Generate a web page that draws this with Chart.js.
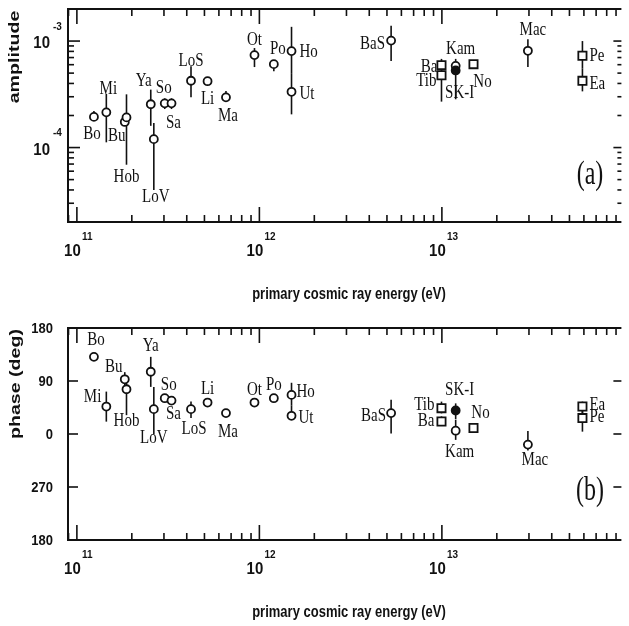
<!DOCTYPE html>
<html>
<head>
<meta charset="utf-8">
<script src="https://cdn.jsdelivr.net/npm/chart.js@4"></script>
<style>
html, body { margin: 0; padding: 0; background: #fff; overflow: hidden; width: 629px; height: 626px; }
canvas { position: absolute; left: 0; }
#ampChart { top: 0; }
#phaseChart { top: 313px; }
</style>
</head>
<body>
<canvas id="ampChart" width="629" height="313"></canvas>
<canvas id="phaseChart" width="629" height="313"></canvas>
<script>
const experiments = ['Bo', 'Mi', 'Bu', 'Hob', 'Ya', 'LoV', 'So', 'Sa', 'LoS', 'Li', 'Ma', 'Ot', 'Po', 'Ho', 'Ut',
    'BaS', 'Ba', 'Tib', 'Kam', 'SK-I', 'No', 'Mac', 'Pe', 'Ea'];
// o = open circle, s = open square, f = filled circle
const markers = ['o', 'o', 'o', 'o', 'o', 'o', 'o', 'o', 'o', 'o', 'o', 'o', 'o', 'o', 'o',
    'o', 's', 's', 'o', 'f', 's', 'o', 's', 's'];
const energy = [1.24e11, 1.45e11, 1.83e11, 1.87e11, 2.54e11, 2.64e11, 3.03e11, 3.30e11, 4.22e11, 5.2e11, 6.56e11, 9.4e11, 1.2e12, 1.5e12, 1.5e12,
    5.27e12, 9.95e12, 9.95e12, 1.19e13, 1.19e13, 1.49e13, 2.96e13, 5.89e13, 5.89e13];

// panel (a): amplitude
const amplitude = [1.94e-4, 2.14e-4, 1.74e-4, 1.92e-4, 2.55e-4, 1.2e-4, 2.6e-4, 2.6e-4, 4.24e-4, 4.2e-4, 2.96e-4, 7.38e-4, 6.07e-4, 8.05e-4, 3.34e-4,
    1.01e-3, 5.94e-4, 4.78e-4, 5.85e-4, 5.3e-4, 6.07e-4, 8.1e-4, 7.27e-4, 4.23e-4];
const ampErrLow = [1.8e-4, 1.12e-4, 1.6e-4, 6.9e-5, 1.6e-4, 4.0e-5, 2.3e-4, 2.3e-4, 2.96e-4, 3.9e-4, 2.7e-4, 5.7e-4, 5.2e-4, 5.0e-4, 2.05e-4,
    6.5e-4, 5.3e-4, 2.7e-4, 5.1e-4, 2.84e-4, null, 5.7e-4, 5.5e-4, 3.37e-4];
const ampErrHigh = [2.2e-4, 3.2e-4, 1.9e-4, 3.16e-4, 3.5e-4, 1.7e-4, 2.9e-4, 2.9e-4, 5.8e-4, 4.5e-4, 3.4e-4, 8.6e-4, 6.6e-4, 1.36e-3, 5.0e-4,
    1.39e-3, 6.8e-4, 5.6e-4, 6.8e-4, 6.0e-4, null, 1.04e-3, 1.0e-3, 5.5e-4];

// panel (b): phase in degrees (negative values shown as 360 + v)
const phase = [131, 46.6, 92.9, 76, 105.7, 42.2, 60.8, 56.7, 42.2, 53.4, 35.5, 53.4, 60.8, 66.4, 30.9,
    35.5, 21.3, 43.9, 5.6, 39.9, 10.1, -18, 27, 46.6];
const phaseErrLow = [null, 21, 80, 32, 80, 0, 56, null, 27, null, 32, null, null, 48, 28,
    1, 15, 35, -10, 25, null, -28, 4, 35];
const phaseErrHigh = [null, 72, 105, 93, 131, 80, 66, null, 55, null, 40, null, null, 87, 48,
    58, 30, 55, 24, 52, null, 5, 40, 55];

// axis ticks
const xMajorTicks = [1e11, 1e12, 1e13];
const ampMajorTicks = [1e-4, 1e-3];
const phaseTicks = [180, 90, 0, -90, -180];

// the right edge of the plot is cut off just short of 1e14
const X_MIN = 8.94e10;
const X_MAX = 9.63e13;

// label placement: [dx, dy, align] relative to the marker
const ampLabelPos = {
    'Bo': [-2, 17, 'c'], 'Mi': [2, -23, 'c'], 'Bu': [-8, 14, 'c'], 'Hob': [0, 59, 'c'],
    'Ya': [-7, -23, 'c'], 'LoV': [2, 58, 'c'], 'So': [-1, -15, 'c'], 'Sa': [2, 20, 'c'],
    'LoS': [0, -20, 'c'], 'Li': [0, 18, 'c'], 'Ma': [2, 19, 'c'], 'Ot': [0, -15, 'c'],
    'Po': [4, -15, 'c'], 'Ho': [8, 1, 'l'], 'Ut': [8, 2, 'l'], 'BaS': [-6, 3, 'r'],
    'Ba': [-4, 2, 'r'], 'Tib': [-5, 6, 'r'], 'Kam': [5, -17, 'c'], 'SK-I': [4, 22, 'c'],
    'No': [9, 18, 'c'], 'Mac': [5, -21, 'c'], 'Pe': [7, 0, 'l'], 'Ea': [7, 3, 'l']
};
const phaseLabelPos = {
    'Bo': [2, -17, 'c'], 'Bu': [-11, -12, 'c'], 'Mi': [-5, -10, 'r'], 'Hob': [0, 32, 'c'],
    'Ya': [0, -26, 'c'], 'LoV': [0, 29, 'c'], 'So': [4, -13, 'c'], 'Sa': [2, 13, 'c'],
    'LoS': [3, 20, 'c'], 'Li': [0, -14, 'c'], 'Ma': [2, 19, 'c'], 'Ot': [0, -13, 'c'],
    'Po': [0, -13, 'c'], 'Ho': [5, -3, 'l'], 'Ut': [7, 2, 'l'], 'BaS': [-5, 3, 'r'],
    'Tib': [-7, -3, 'r'], 'Ba': [-7, -1, 'r'], 'SK-I': [4, -21, 'c'], 'Kam': [4, 21, 'c'],
    'No': [7, -15, 'c'], 'Mac': [7, 15, 'c'], 'Ea': [7, -2, 'l'], 'Pe': [7, -1, 'l']
};

const INK = '#111';
const SERIF = '"Liberation Serif", "DejaVu Serif", serif';
const SANS = '"Liberation Sans", Arial, sans-serif';

// text with a vertical stretch, like the scanned figure
function stretchText(ctx, text, x, y, font, align, sy, rotate) {
    ctx.save();
    ctx.font = font;
    ctx.fillStyle = INK;
    ctx.textAlign = align;
    ctx.textBaseline = 'middle';
    ctx.translate(x, y);
    ctx.scale(1, sy);
    if (rotate) ctx.rotate(-Math.PI / 2);
    ctx.fillText(text, 0, 0);
    ctx.restore();
}

function line(ctx, x1, y1, x2, y2) {
    ctx.beginPath();
    ctx.moveTo(x1, y1);
    ctx.lineTo(x2, y2);
    ctx.stroke();
}

// open frame: top, left and bottom (right side is off the page)
function drawFrame(ctx, area) {
    ctx.lineWidth = 2;
    ctx.strokeStyle = INK;
    ctx.beginPath();
    ctx.moveTo(area.right, area.top);
    ctx.lineTo(area.left, area.top);
    ctx.lineTo(area.left, area.bottom);
    ctx.lineTo(area.right, area.bottom);
    ctx.stroke();
}

function drawXAxis(ctx, chart) {
    const x = chart.scales.x;
    const area = chart.chartArea;
    ctx.lineWidth = 1.6;
    ctx.strokeStyle = INK;
    xMajorTicks.concat([xMajorTicks[0] / 10]).forEach(major => {
        for (let m = 1; m <= 9; m++) {
            const v = major * m;
            if (v <= X_MIN || v >= X_MAX) continue;
            const px = x.getPixelForValue(v);
            const len = m === 1 ? 15 : 7;
            line(ctx, px, area.top, px, area.top + len);
            line(ctx, px, area.bottom, px, area.bottom - len);
        }
    });
    xMajorTicks.forEach(v => {
        const px = x.getPixelForValue(v);
        const exp = Math.round(Math.log10(v));
        stretchText(ctx, '10', px - 4.5, area.bottom + 30, 'bold 15px ' + SANS, 'center', 1.05);
        stretchText(ctx, String(exp), px + 5, area.bottom + 15.5, 'bold 10px ' + SANS, 'left', 1.05);
    });
    stretchText(ctx, 'primary cosmic ray energy (eV)', 349, area.bottom + 73, 'bold 13px ' + SANS, 'center', 1.2);
}

function drawErrorBars(ctx, chart, values, lows, highs) {
    const x = chart.scales.x;
    const y = chart.scales.y;
    ctx.save();
    ctx.lineWidth = 1.6;
    ctx.strokeStyle = INK;
    values.forEach((v, i) => {
        if (lows[i] === null) return;
        const px = x.getPixelForValue(energy[i]);
        line(ctx, px, y.getPixelForValue(lows[i]), px, y.getPixelForValue(highs[i]));
    });
    ctx.restore();
}

function drawPointLabels(ctx, chart, values, placement) {
    const x = chart.scales.x;
    const y = chart.scales.y;
    experiments.forEach((name, i) => {
        const p = placement[name];
        const px = x.getPixelForValue(energy[i]) + p[0];
        const py = y.getPixelForValue(values[i]) + p[1];
        const align = p[2] === 'l' ? 'left' : (p[2] === 'r' ? 'right' : 'center');
        stretchText(ctx, name, px, py, '15px ' + SERIF, align, 1.3);
    });
}

const ampPlugin = {
    id: 'ampFrame',
    beforeDatasetsDraw(chart) {
        drawErrorBars(chart.ctx, chart, amplitude, ampErrLow, ampErrHigh);
    },
    afterDatasetsDraw(chart) {
        const ctx = chart.ctx;
        const area = chart.chartArea;
        const y = chart.scales.y;
        ctx.save();
        drawFrame(ctx, area);
        drawXAxis(ctx, chart);
        [1e-5, 1e-4, 1e-3].forEach(major => {
            for (let m = 1; m <= 9; m++) {
                const v = major * m;
                if (v <= y.min || v >= y.max) continue;
                const py = y.getPixelForValue(v);
                line(ctx, area.left, py, area.left + (m === 1 ? 12 : 6), py);
                line(ctx, area.right, py, area.right - (m === 1 ? 8 : 4), py);
            }
        });
        ampMajorTicks.forEach(v => {
            const py = y.getPixelForValue(v);
            stretchText(ctx, '10', 50, py + 3, 'bold 15px ' + SANS, 'right', 1.05);
            stretchText(ctx, String(Math.round(Math.log10(v))), 53, py - 14, 'bold 10px ' + SANS, 'left', 1.05);
        });
        stretchText(ctx, 'amplitude', 15, 57, 'bold 14px ' + SANS, 'center', 1.4, true);
        drawPointLabels(ctx, chart, amplitude, ampLabelPos);
        stretchText(ctx, '(a)', 590, 175, '24px ' + SERIF, 'center', 1.4);
        ctx.restore();
    }
};

const phasePlugin = {
    id: 'phaseFrame',
    beforeDatasetsDraw(chart) {
        drawErrorBars(chart.ctx, chart, phase, phaseErrLow, phaseErrHigh);
    },
    afterDatasetsDraw(chart) {
        const ctx = chart.ctx;
        const area = chart.chartArea;
        const y = chart.scales.y;
        ctx.save();
        drawFrame(ctx, area);
        drawXAxis(ctx, chart);
        phaseTicks.forEach(v => {
            const py = y.getPixelForValue(v);
            if (Math.abs(v) < 180) {
                line(ctx, area.left, py, area.left + 10, py);
                line(ctx, area.right, py, area.right - 8, py);
            }
            const label = v < 0 ? v + 360 : v;
            stretchText(ctx, String(label), 53, py + 1, 'bold 13px ' + SANS, 'right', 1.1);
        });
        stretchText(ctx, 'phase (deg)', 16, 384 - 313, 'bold 14px ' + SANS, 'center', 1.4, true);
        drawPointLabels(ctx, chart, phase, phaseLabelPos);
        stretchText(ctx, '(b)', 590, 491 - 313, '24px ' + SERIF, 'center', 1.4);
        ctx.restore();
    }
};

function markerDataset(values) {
    return {
        data: values.map((v, i) => ({ x: energy[i], y: v })),
        showLine: false,
        pointStyle: ctx => markers[ctx.dataIndex] === 's' ? 'rect' : 'circle',
        pointRadius: ctx => markers[ctx.dataIndex] === 's' ? 5.8 : 4,
        pointBorderWidth: 1.8,
        pointBorderColor: INK,
        pointBackgroundColor: ctx => markers[ctx.dataIndex] === 'f' ? INK : '#fff'
    };
}

function baseOptions(padding, yScale) {
    return {
        responsive: false,
        animation: false,
        events: [],
        layout: { padding: padding },
        plugins: { legend: { display: false }, tooltip: { enabled: false } },
        scales: {
            x: { type: 'logarithmic', min: X_MIN, max: X_MAX, display: false },
            y: yScale
        }
    };
}

new Chart(document.getElementById('ampChart'), {
    type: 'scatter',
    data: { datasets: [markerDataset(amplitude)] },
    options: baseOptions({ left: 68, top: 9, right: 0, bottom: 91 },
        { type: 'logarithmic', min: 2e-5, max: 2e-3, display: false }),
    plugins: [ampPlugin]
});

new Chart(document.getElementById('phaseChart'), {
    type: 'scatter',
    data: { datasets: [markerDataset(phase)] },
    options: baseOptions({ left: 68, top: 15, right: 0, bottom: 86 },
        { type: 'linear', min: -180, max: 180, display: false }),
    plugins: [phasePlugin]
});
</script>
</body>
</html>
